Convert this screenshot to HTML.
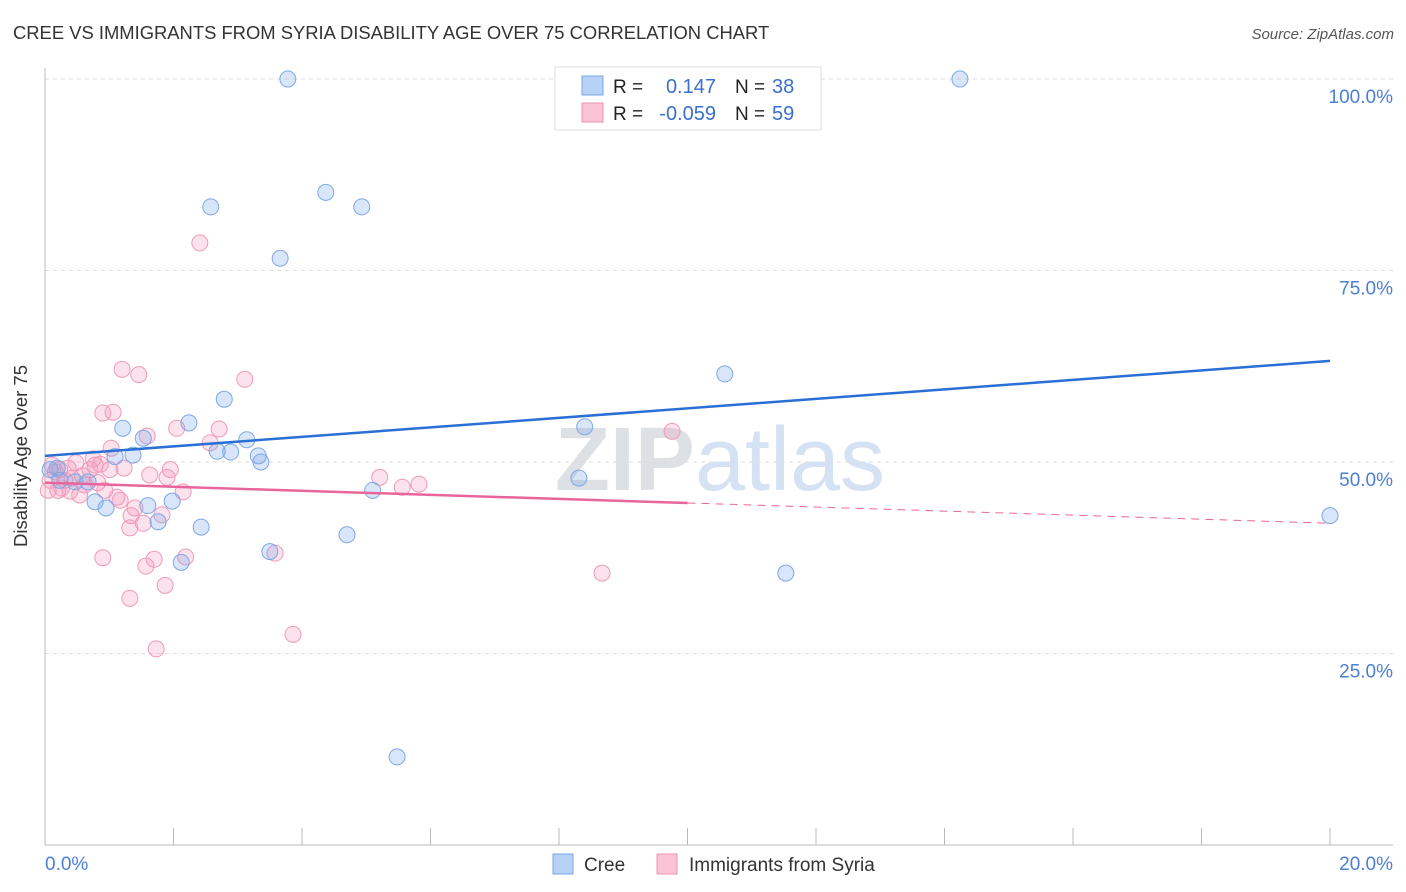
<!DOCTYPE html>
<html><head><meta charset="utf-8"><style>
body{margin:0;background:#fff;width:1406px;height:892px;overflow:hidden;font-family:"Liberation Sans",sans-serif}
</style></head><body>
<svg width="1406" height="892" style="position:absolute;left:0;top:0" font-family="Liberation Sans, sans-serif">
<text x="13" y="39" font-size="18.4" fill="#333">CREE VS IMMIGRANTS FROM SYRIA DISABILITY AGE OVER 75 CORRELATION CHART</text>
<text x="1394" y="39" font-size="15" fill="#555" font-style="italic" text-anchor="end">Source: ZipAtlas.com</text>
<text x="720" y="490" font-size="90" fill="#e4e8ee" text-anchor="middle" font-weight="bold"><tspan fill="#dde0e4">ZIP</tspan><tspan fill="#d4e2f4" font-weight="normal">atlas</tspan></text>
<g id="grid"></g>
<g id="axes"></g>
<g id="pts"></g>
<g id="trend"></g>
<text x="27" y="456" font-size="18.5" fill="#333" text-anchor="middle" transform="rotate(-90 27 456)">Disability Age Over 75</text>
<text x="45" y="870" font-size="19" fill="#4a7fd6">0.0%</text>
<text x="1393" y="870" font-size="19" fill="#4a7fd6" text-anchor="end">20.0%</text>
<g>
<rect x="555" y="67" width="266" height="63" fill="#fff" stroke="#ddd"/>
<rect x="582" y="76" width="21" height="19" fill="#b8d2f5" stroke="#7aa6e6"/>
<rect x="582" y="103" width="21" height="19" fill="#fac4d6" stroke="#ec92b0"/>
<text x="613" y="93" font-size="19" fill="#222">R =</text>
<text x="716" y="93" font-size="20" fill="#3a6fcc" text-anchor="end">0.147</text>
<text x="735" y="93" font-size="19" fill="#222">N =</text>
<text x="772" y="93" font-size="20" fill="#3a6fcc">38</text>
<text x="613" y="120" font-size="19" fill="#222">R =</text>
<text x="716" y="120" font-size="20" fill="#3a6fcc" text-anchor="end">-0.059</text>
<text x="735" y="120" font-size="19" fill="#222">N =</text>
<text x="772" y="120" font-size="20" fill="#3a6fcc">59</text>
</g>
<g>
<rect x="553" y="854" width="20" height="20" fill="#b8d2f5" stroke="#7aa6e6"/>
<text x="584" y="871" font-size="19" fill="#333">Cree</text>
<rect x="657" y="854" width="20" height="20" fill="#fac4d6" stroke="#ec92b0"/>
<text x="689" y="871" font-size="19" fill="#333">Immigrants from Syria</text>
</g>
</svg>
<script>
const yTicks=[25,50,75,100];
const yTickLabels=["25.0%","50.0%","75.0%","100.0%"];
const xTicks=[0,2,4,6,8,10,12,14,16,18,20];
const creeX=[3.78,14.24,4.37,2.58,4.93,3.66,10.58,2.79,2.24,1.21,1.53,3.14,8.40,2.68,2.89,3.32,3.36,1.37,1.09,0.19,0.67,0.78,0.95,1.60,1.98,1.76,2.43,5.10,8.31,4.70,3.50,2.12,11.53,5.48,20.0,0.08,0.47,0.23];
const creeY=[100,100,85.2,83.3,83.3,76.6,61.5,58.2,55.1,54.4,53.1,52.9,54.6,51.4,51.3,50.8,50.0,50.9,50.7,49.2,47.4,44.8,44.0,44.3,44.9,42.2,41.5,46.3,47.9,40.5,38.3,36.9,35.5,11.5,43.0,49.0,47.4,47.6];
const syrX=[2.41,1.20,1.46,3.11,0.90,1.06,1.59,2.05,2.71,2.57,9.76,1.03,0.75,0.48,0.86,1.23,1.63,1.90,1.95,0.70,0.58,0.23,0.11,0.08,0.05,0.26,0.39,0.54,0.82,1.12,1.17,2.15,5.21,5.56,5.82,1.40,1.82,1.34,1.53,1.32,0.90,1.70,2.19,1.57,3.58,1.87,1.32,8.67,3.86,1.73,0.16,0.31,0.62,0.20,0.78,1.01,0.42,0.93,0.36];
const syrY=[78.6,62.1,61.4,60.8,56.4,56.5,53.4,54.4,54.3,52.5,54.0,51.8,50.4,49.9,49.7,49.2,48.3,48.0,49.0,49.0,48.2,49.0,49.6,47.6,46.3,46.6,46.2,45.7,47.3,45.4,45.0,46.1,48.0,46.7,47.1,44.0,43.1,43.0,42.0,41.4,37.5,37.3,37.6,36.4,38.1,33.9,32.2,35.5,27.5,25.6,48.7,47.6,47.0,46.3,49.6,49.0,47.9,46.3,49.2];
const creeTrend=[50.8,63.2];
const syrTrend=[47.3,42.0];
const NS="http://www.w3.org/2000/svg";
const X=v=>45+v*64.25, Y=v=>845-v*7.66;
function mk(t,a,p){const e=document.createElementNS(NS,t);for(const k in a)e.setAttribute(k,a[k]);document.getElementById(p).appendChild(e);return e;}
yTicks.forEach((t,i)=>{
 const l=mk('line',{x1:45,x2:1393,y1:Y(t),y2:Y(t),stroke:'#ddd','stroke-dasharray':'4,4'},'grid');
 
 
 const tx=mk('text',{x:1393,y:Y(t)+24,'font-size':19,fill:'#4a7fd6','text-anchor':'end'},'grid');
 tx.textContent=yTickLabels[i];
 
 
});
mk('line',{x1:45,x2:45,y1:68,y2:845,stroke:'#bbb'},'axes');
mk('line',{x1:45,x2:1393,y1:845,y2:845,stroke:'#bbb'},'axes');
xTicks.forEach(t=>{const l=mk('line',{x1:X(t),x2:X(t),y1:828,y2:845,stroke:'#bbb'},'axes');
 
 });
function pts(xs,ys,fill,stroke,name){xs.forEach((x,i)=>{const c=mk('circle',{cx:X(x),cy:Y(ys[i]),r:8,fill:fill,stroke:stroke,'stroke-width':1},'pts');
 
 });}
pts(syrX,syrY,'rgba(245,150,185,0.28)','#ef9ab8','syria-point');
pts(creeX,creeY,'rgba(120,165,235,0.28)','#7ea8e6','cree-point');
let l=mk('line',{x1:X(0),y1:Y(creeTrend[0]),x2:X(20),y2:Y(creeTrend[1]),stroke:'#2a6fd6','stroke-width':2.5},'trend');


const mid=syrTrend[0]+(syrTrend[1]-syrTrend[0])*0.5;
l=mk('line',{x1:X(0),y1:Y(syrTrend[0]),x2:X(10),y2:Y(mid),stroke:'#e8669a','stroke-width':2.5},'trend');


l=mk('line',{x1:X(10),y1:Y(mid),x2:X(20),y2:Y(syrTrend[1]),stroke:'#e8669a','stroke-width':1,'stroke-dasharray':'8,6'},'trend');


</script>
</body></html>
